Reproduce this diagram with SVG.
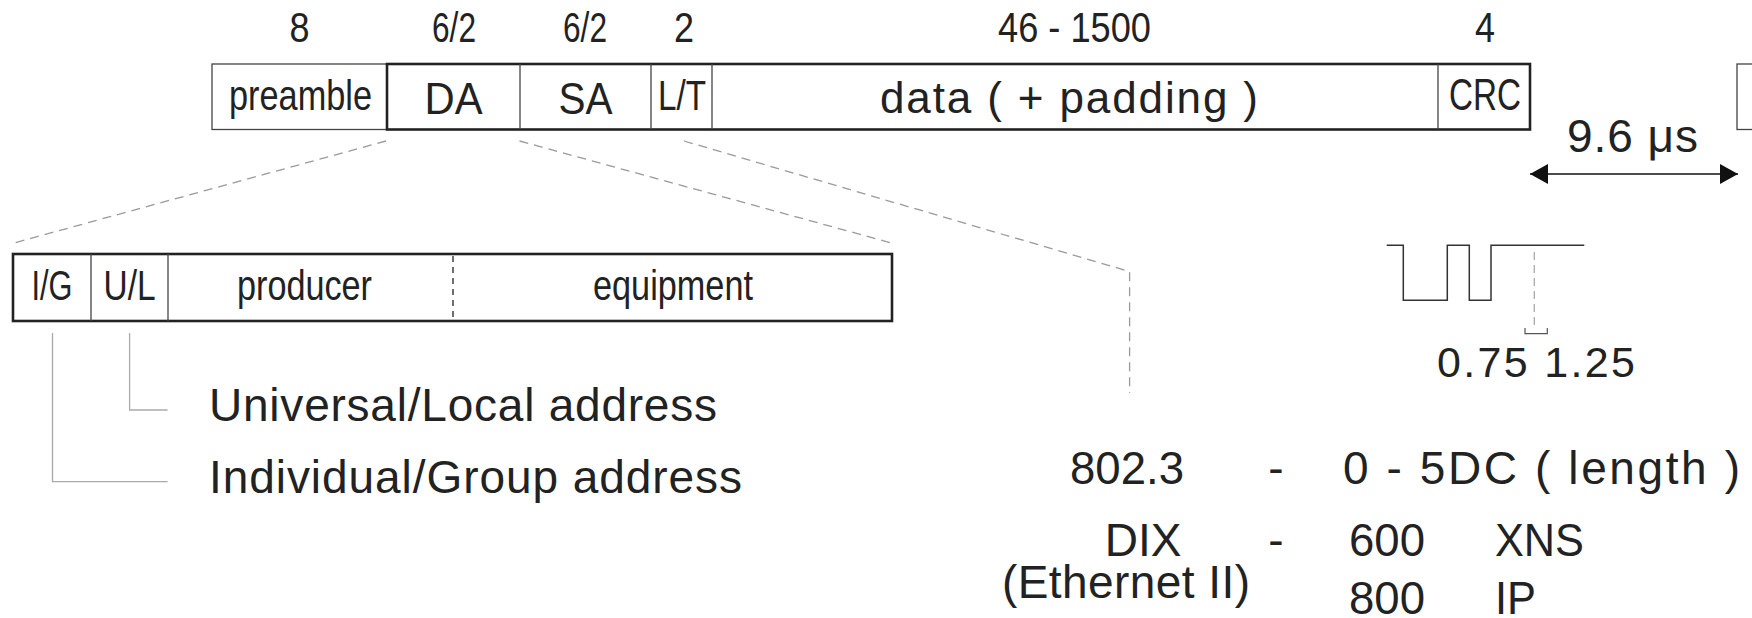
<svg xmlns="http://www.w3.org/2000/svg" width="1752" height="618" viewBox="0 0 1752 618">
<defs>
<style>
text{font-family:"Liberation Sans",Arial,sans-serif;fill:#222}
.n{font-size:42px}
.b{font-size:44px}
.a{font-size:42px}
.big{font-size:46px}
.thin{fill:none;stroke:#444;stroke-width:1.3}
.thick{fill:none;stroke:#222;stroke-width:2.6}
.lead{fill:none;stroke:#9a9a9a;stroke-width:1.3;stroke-dasharray:9 6}
.leg{fill:none;stroke:#aaa;stroke-width:1.3}
</style>
<marker id="ah" viewBox="0 0 18 20" refX="18" refY="10" markerWidth="18" markerHeight="20" markerUnits="userSpaceOnUse" orient="auto-start-reverse">
<path d="M0 0 L18 10 L0 20 Z" fill="#111"/>
</marker>
</defs>
<rect width="1752" height="618" fill="#fff"/>

<g id="sizes">
<text class="n" x="289.5" y="42" textLength="20" lengthAdjust="spacingAndGlyphs">8</text>
<text class="n" x="432" y="42" textLength="44" lengthAdjust="spacingAndGlyphs">6/2</text>
<text class="n" x="563" y="42" textLength="44" lengthAdjust="spacingAndGlyphs">6/2</text>
<text class="n" x="674" y="42" textLength="20" lengthAdjust="spacingAndGlyphs">2</text>
<text class="n" x="998" y="42" textLength="153" lengthAdjust="spacingAndGlyphs">46 - 1500</text>
<text class="n" x="1475" y="42" textLength="20" lengthAdjust="spacingAndGlyphs">4</text>
</g>

<g id="frame">
<rect class="thin" x="212" y="64" width="175" height="65.5"/>
<rect class="thick" x="387" y="64" width="1143" height="65.5"/>
<line class="thin" x1="520" y1="64" x2="520" y2="129.5"/>
<line class="thin" x1="651" y1="64" x2="651" y2="129.5"/>
<line class="thin" x1="712" y1="64" x2="712" y2="129.5"/>
<line class="thin" x1="1438" y1="64" x2="1438" y2="129.5"/>
<rect class="thin" x="1737" y="64" width="40" height="65.5"/>
<text class="a" x="229" y="110" textLength="143" lengthAdjust="spacingAndGlyphs">preamble</text>
<text class="b" x="424.5" y="114" textLength="58" lengthAdjust="spacingAndGlyphs">DA</text>
<text class="b" x="558.5" y="114" textLength="54" lengthAdjust="spacingAndGlyphs">SA</text>
<text class="a" x="658" y="110" textLength="48" lengthAdjust="spacingAndGlyphs">L/T</text>
<text class="b" x="880" y="113" textLength="378" lengthAdjust="spacing">data ( + padding )</text>
<text class="b" x="1449" y="110" textLength="72" lengthAdjust="spacingAndGlyphs">CRC</text>
</g>

<g id="gap">
<line x1="1530" y1="174" x2="1738" y2="174" stroke="#111" stroke-width="1.3" marker-start="url(#ah)" marker-end="url(#ah)"/>
<text x="1567" y="152" textLength="131" lengthAdjust="spacing" style="font-size:46px">9.6 μs</text>
</g>

<g id="connectors">
<polyline class="lead" points="386,141 14,243"/>
<polyline class="lead" points="519.5,141 891.5,243"/>
<polyline class="lead" points="684,141 1129.6,271.5 1129.6,393"/>
<path class="leg" d="M129.6 333 V410 H167.6"/>
<path class="leg" d="M52.5 333 V481.6 H167.6"/>
</g>

<g id="address">
<rect class="thick" x="13" y="254" width="879" height="67"/>
<line class="thin" x1="91" y1="254" x2="91" y2="321"/>
<line class="thin" x1="168" y1="254" x2="168" y2="321"/>
<line x1="453" y1="256" x2="453" y2="320" stroke="#222" stroke-width="1.3" stroke-dasharray="6 5"/>
<text class="a" x="31.5" y="300" textLength="41" lengthAdjust="spacingAndGlyphs">I/G</text>
<text class="a" x="103.5" y="300" textLength="52" lengthAdjust="spacingAndGlyphs">U/L</text>
<text class="a" x="237" y="300" textLength="135" lengthAdjust="spacingAndGlyphs">producer</text>
<text class="a" x="593" y="300" textLength="160" lengthAdjust="spacingAndGlyphs">equipment</text>
</g>

<g id="legend">
<text class="big" x="209" y="421" textLength="508" lengthAdjust="spacing">Universal/Local  address</text>
<text class="big" x="209" y="493" textLength="533" lengthAdjust="spacing">Individual/Group  address</text>
</g>

<g id="waveform">
<path d="M1386.7 245.3 H1403.3 V300.3 H1447.3 V245.3 H1469.3 V300.3 H1491 V245.3 H1584.3" fill="none" stroke="#333" stroke-width="1.5"/>
<line x1="1534.3" y1="252" x2="1534.3" y2="330" stroke="#aaa" stroke-width="1.3" stroke-dasharray="8 5"/>
<path d="M1525 328 V333.7 H1547.3 V328" fill="none" stroke="#555" stroke-width="1.2"/>
<text x="1437" y="377" textLength="198" lengthAdjust="spacing" style="font-size:43px">0.75 1.25</text>
</g>

<g id="types">
<text class="big" x="1070" y="484" textLength="114" lengthAdjust="spacingAndGlyphs">802.3</text>
<text class="big" x="1276" y="484" text-anchor="middle">-</text>
<text class="big" x="1343" y="484" textLength="397" lengthAdjust="spacing">0 - 5DC ( length )</text>
<text class="big" x="1143" y="556" text-anchor="middle">DIX</text>
<text class="big" x="1276" y="556" text-anchor="middle">-</text>
<text class="big" x="1349" y="556" textLength="76" lengthAdjust="spacingAndGlyphs">600</text>
<text class="big" x="1495" y="556" textLength="89" lengthAdjust="spacingAndGlyphs">XNS</text>
<text class="big" x="1002" y="598" textLength="248" lengthAdjust="spacing">(Ethernet II)</text>
<text class="big" x="1349" y="614" textLength="76" lengthAdjust="spacingAndGlyphs">800</text>
<text class="big" x="1495" y="614" textLength="41" lengthAdjust="spacingAndGlyphs">IP</text>
</g>
</svg>
